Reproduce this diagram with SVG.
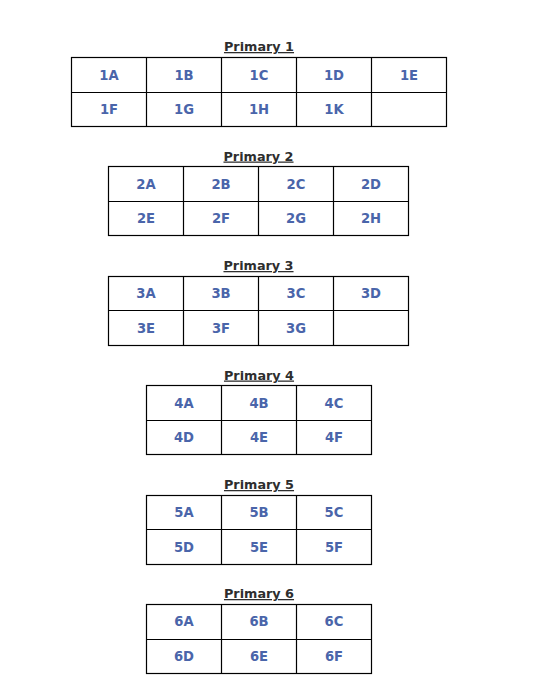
<svg xmlns="http://www.w3.org/2000/svg" width="537" height="698" viewBox="0 0 537 698">
<style>
.bg{fill:#ffffff}
.grid{fill:none;stroke:#000000;stroke-width:1.2}
.title{font-family:"DejaVu Sans","Liberation Sans",sans-serif;font-weight:bold;font-size:12.8px;fill:#2e2e2e;text-anchor:middle;text-decoration:underline}
.cell{font-family:"DejaVu Sans","Liberation Sans",sans-serif;font-weight:bold;font-size:13.2px;fill:#4a65aa;text-anchor:middle}
</style>
<rect class="bg" x="0" y="0" width="537" height="698"/>

<g id="primary1">
<text class="title" x="259" y="51">Primary 1</text>
<rect class="grid" x="71.5" y="57.5" width="375" height="69"/>
<path class="grid" d="M71.5 92.5H446.5M146.5 57.5V126.5M221.5 57.5V126.5M296.5 57.5V126.5M371.5 57.5V126.5"/>
<text class="cell" x="109" y="79.5">1A</text><text class="cell" x="184" y="79.5">1B</text><text class="cell" x="259" y="79.5">1C</text><text class="cell" x="334" y="79.5">1D</text><text class="cell" x="409" y="79.5">1E</text>
<text class="cell" x="109" y="114">1F</text><text class="cell" x="184" y="114">1G</text><text class="cell" x="259" y="114">1H</text><text class="cell" x="334" y="114">1K</text>
</g>

<g id="primary2">
<text class="title" x="258.5" y="160.5">Primary 2</text>
<rect class="grid" x="108.5" y="166.5" width="300" height="69"/>
<path class="grid" d="M108.5 201.5H408.5M183.5 166.5V235.5M258.5 166.5V235.5M333.5 166.5V235.5"/>
<text class="cell" x="146" y="188.5">2A</text><text class="cell" x="221" y="188.5">2B</text><text class="cell" x="296" y="188.5">2C</text><text class="cell" x="371" y="188.5">2D</text>
<text class="cell" x="146" y="223">2E</text><text class="cell" x="221" y="223">2F</text><text class="cell" x="296" y="223">2G</text><text class="cell" x="371" y="223">2H</text>
</g>

<g id="primary3">
<text class="title" x="258.5" y="270">Primary 3</text>
<rect class="grid" x="108.5" y="276.5" width="300" height="69"/>
<path class="grid" d="M108.5 310.5H408.5M183.5 276.5V345.5M258.5 276.5V345.5M333.5 276.5V345.5"/>
<text class="cell" x="146" y="298">3A</text><text class="cell" x="221" y="298">3B</text><text class="cell" x="296" y="298">3C</text><text class="cell" x="371" y="298">3D</text>
<text class="cell" x="146" y="332.5">3E</text><text class="cell" x="221" y="332.5">3F</text><text class="cell" x="296" y="332.5">3G</text>
</g>

<g id="primary4">
<text class="title" x="259" y="379.5">Primary 4</text>
<rect class="grid" x="146.5" y="385.5" width="225" height="69"/>
<path class="grid" d="M146.5 420.5H371.5M221.5 385.5V454.5M296.5 385.5V454.5"/>
<text class="cell" x="184" y="407.5">4A</text><text class="cell" x="259" y="407.5">4B</text><text class="cell" x="334" y="407.5">4C</text>
<text class="cell" x="184" y="442">4D</text><text class="cell" x="259" y="442">4E</text><text class="cell" x="334" y="442">4F</text>
</g>

<g id="primary5">
<text class="title" x="259" y="489">Primary 5</text>
<rect class="grid" x="146.5" y="495.5" width="225" height="69"/>
<path class="grid" d="M146.5 529.5H371.5M221.5 495.5V564.5M296.5 495.5V564.5"/>
<text class="cell" x="184" y="517">5A</text><text class="cell" x="259" y="517">5B</text><text class="cell" x="334" y="517">5C</text>
<text class="cell" x="184" y="551.5">5D</text><text class="cell" x="259" y="551.5">5E</text><text class="cell" x="334" y="551.5">5F</text>
</g>

<g id="primary6">
<text class="title" x="259" y="598">Primary 6</text>
<rect class="grid" x="146.5" y="604.5" width="225" height="69"/>
<path class="grid" d="M146.5 639.5H371.5M221.5 604.5V673.5M296.5 604.5V673.5"/>
<text class="cell" x="184" y="626">6A</text><text class="cell" x="259" y="626">6B</text><text class="cell" x="334" y="626">6C</text>
<text class="cell" x="184" y="661">6D</text><text class="cell" x="259" y="661">6E</text><text class="cell" x="334" y="661">6F</text>
</g>

<g id="connectors"></g>
</svg>
